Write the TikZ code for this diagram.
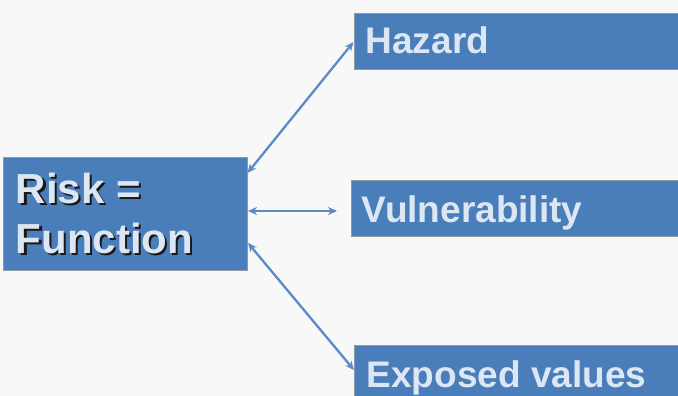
\documentclass[tikz,border=0pt]{standalone}
\usepackage{fontspec}
\setmainfont{Liberation Sans}
\usetikzlibrary{arrows.meta}
\definecolor{bg}{HTML}{F8F8F8}
\definecolor{boxfill}{HTML}{4A7EBB}
\definecolor{boxline}{HTML}{8E99A6}
\definecolor{txt}{HTML}{DDE7F4}
\definecolor{arr}{HTML}{5B8AC8}
\tikzset{
  box/.style={draw=boxline, line width=1pt, fill=boxfill, rectangle, inner sep=0pt, anchor=north west},
  lbl/.style={anchor=base west, inner sep=0pt, text=txt, font=\fontsize{37}{40}\selectfont\bfseries},
  bigl/.style={lbl, font=\fontsize{42}{50}\selectfont\bfseries},
  shad/.style={bigl, text=black!90},
  conn/.style={draw=arr, line width=2.3pt, {Stealth[length=9pt,width=8pt]}-{Stealth[length=9pt,width=8pt]}}
}
\begin{document}
\begin{tikzpicture}[x=1pt,y=-1pt]
\useasboundingbox[fill=bg] (0,0) rectangle (678,396);
% boxes
\node[box, minimum width=244pt, minimum height=113pt] (risk) at (3,157) {};
\node[box, minimum width=330pt, minimum height=56pt] (hazard) at (354,13) {};
\node[box, minimum width=334pt, minimum height=56pt] (vuln) at (351,180) {};
\node[box, minimum width=330pt, minimum height=60pt] (expo) at (354,345) {};
% texts
\node[shad] (riskshadow1) at (17.8,205.8) {Risk =};
\node[shad] (riskshadow2) at (17.8,255.8) {Function};
\node[bigl] (risktxt1) at (15.5,203.5) {Risk =};
\node[bigl] (risktxt2) at (15.5,253.5) {Function};
\node[lbl] (hazardtxt) at (365.5,54) {Hazard};
\node[lbl] (vulntxt) at (361.5,222) {Vulnerability};
\node[lbl] (expotxt) at (366.5,387) {Exposed values};
% connector ends
\coordinate (rh) at (247.5,173);
\coordinate (rv) at (248,211);
\coordinate (re) at (248,243);
\coordinate (hz) at (353.5,42);
\coordinate (vz) at (337,211);
\coordinate (ez) at (354,370);
\draw[conn] (rh) -- (hz);
\draw[conn] (rv) -- (vz);
\draw[conn] (re) -- (ez);
\end{tikzpicture}
\end{document}
